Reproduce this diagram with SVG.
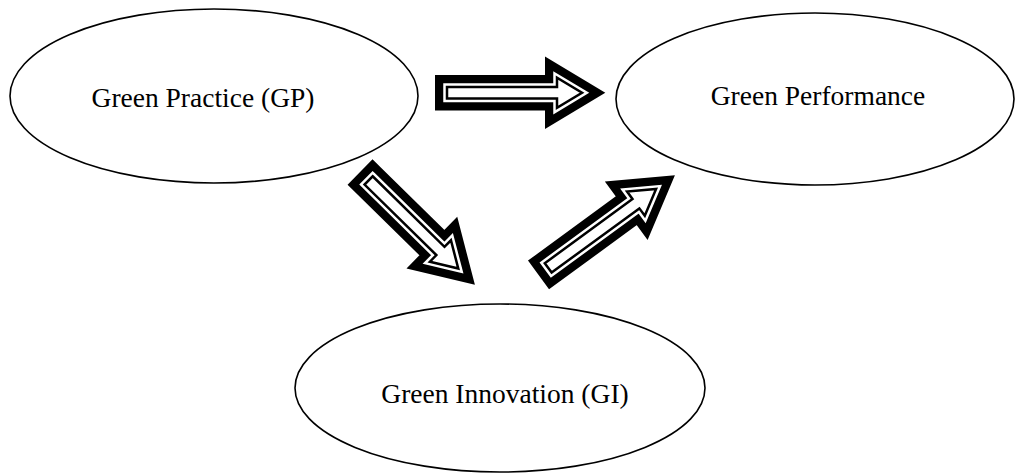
<svg xmlns="http://www.w3.org/2000/svg" xmlns:xlink="http://www.w3.org/1999/xlink" width="1016" height="473" viewBox="0 0 1016 473">
<style>
.node ellipse{fill:#fff;stroke:#000;stroke-width:1.6}
.node text{font-family:"Liberation Serif","Times New Roman",serif;font-size:27.5px;fill:#000;text-anchor:middle}
.l1{fill:none;stroke:#000;stroke-width:24;stroke-linejoin:miter;stroke-miterlimit:10}
.l2{fill:none;stroke:#fff;stroke-width:7.5;stroke-linejoin:miter;stroke-miterlimit:10}
.l3{fill:#fff;stroke:#000;stroke-width:2.5;stroke-linejoin:miter;stroke-miterlimit:10}
</style>
<defs>
<path id="a1" d="M0,-5.8 H110 V-15 L135,0 L110,15 V5.8 H0 Z"/>
<path id="a2" d="M0,-5.8 H100.7 V-15 L125.7,0 L100.7,15 V5.8 H0 Z"/>
<path id="a3" d="M0,-5.8 H108.7 V-15 L133.7,0 L108.7,15 V5.8 H0 Z"/>
</defs>
<rect width="1016" height="473" fill="#fff"/>
<g id="connectors">
<g id="gp-to-perf" transform="translate(447,92.8)">
<use xlink:href="#a1" class="l1"/><use xlink:href="#a1" class="l2"/><use xlink:href="#a1" class="l3"/>
</g>
<g id="gp-to-gi" transform="translate(368.6,180.4) rotate(44.5)">
<use xlink:href="#a2" class="l1"/><use xlink:href="#a2" class="l2"/><use xlink:href="#a2" class="l3"/>
</g>
<g id="gi-to-perf" transform="translate(548.2,267.9) rotate(-36.2)">
<use xlink:href="#a3" class="l1"/><use xlink:href="#a3" class="l2"/><use xlink:href="#a3" class="l3"/>
</g>
</g>
<g id="gp" class="node">
<ellipse cx="214" cy="96" rx="204" ry="87"/>
<text x="203" y="107">Green Practice (GP)</text>
</g>
<g id="perf" class="node">
<ellipse cx="815" cy="99" rx="199" ry="86"/>
<text x="818" y="105">Green Performance</text>
</g>
<g id="gi" class="node">
<ellipse cx="500" cy="388" rx="205" ry="84"/>
<text x="505" y="403">Green Innovation (GI)</text>
</g>
</svg>
